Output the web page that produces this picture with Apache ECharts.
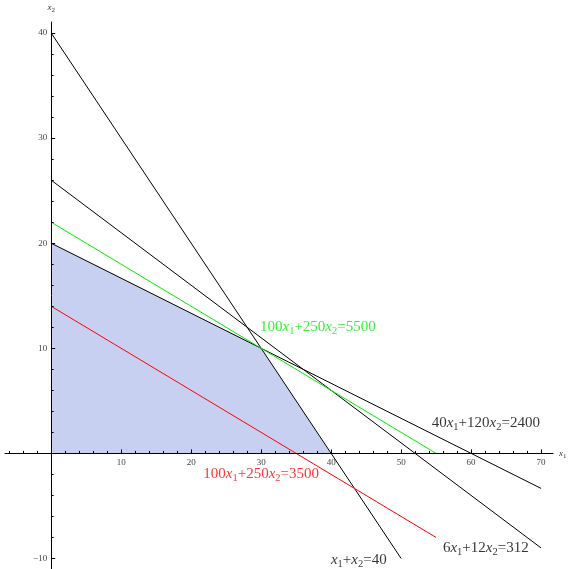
<!DOCTYPE html>
<html><head><meta charset="utf-8">
<script src="https://cdn.jsdelivr.net/npm/echarts@6/dist/echarts.min.js"></script>
<style>html,body{margin:0;padding:0;background:#fff}#c{width:568px;height:569px}</style>
</head><body><div id="c"></div>
<script>
// Axis ticks
const xMajorTicks = [10, 20, 30, 40, 50, 60, 70];
const xMinorTicks = [-6, -4, -2, 2, 4, 6, 8, 12, 14, 16, 18, 22, 24, 26, 28, 32, 34, 36, 38, 42, 44, 46, 48, 52, 54, 56, 58, 62, 64, 66, 68];
const yMajorTicks = [-10, 10, 20, 30, 40];
const yMinorTicks = [-8, -6, -4, -2, 2, 4, 6, 8, 12, 14, 16, 18, 22, 24, 26, 28, 32, 34, 36, 38];

// Constraint / objective lines (endpoints)
const lineSum = [[0, 40], [50, -10]];          // x1+x2=40
const lineB = [[0, 26], [70, -9]];             // 6x1+12x2=312
const lineC = [[0, 20], [70, -10 / 3]];        // 40x1+120x2=2400
const lineGreen = [[0, 22], [55, 0]];          // 100x1+250x2=5500
const lineRed = [[0, 14], [55, -8]];           // 100x1+250x2=3500
// Feasible region upper boundary
const feasible = [[0, 20], [30, 10], [40, 0]];

// Annotations
const labelTexts = ['x1+x2=40', '6x1+12x2=312', '40x1+120x2=2400', '100x1+250x2=5500', '100x1+250x2=3500'];
const labelAnchors = [[43.95, -10.17], [62.1, -9.03], [62.1, 2.85], [38.1, 11.98], [30.0, -2.0]];
const labelColors = ['#000', '#000', '#000', '#00ee00', '#ff0000'];

const SERIF = '"Liberation Serif","DejaVu Serif",serif';

function toRich(t) {
  return t.split(/(x[12])/).filter(s => s.length).map(s => {
    const m = s.match(/^x([12])$/);
    return m ? '{i|x}{s|' + m[1] + '}' : '{n|' + s + '}';
  }).join('');
}
function richFor(color) {
  return {
    n: { fontFamily: SERIF, fontSize: 15, color: color },
    i: { fontFamily: SERIF, fontSize: 15, fontStyle: 'italic', color: color },
    s: { fontFamily: SERIF, fontSize: 10.5, color: color, padding: [7, 0, 0, 0] }
  };
}
const axisNameRich = {
  i: { fontFamily: SERIF, fontSize: 9, fontStyle: 'italic', color: '#333' },
  s: { fontFamily: SERIF, fontSize: 7, color: '#333', padding: [5, 0, 0, 0] }
};

const W = 568, H = 569;
const G = { left: 5, right: 15, top: 22, bottom: 0 };
const X_MIN = -6.6, X_MAX = 71.7, Y_MIN = -11, Y_MAX = 41.05;
const gw = W - G.left - G.right, gh = H - G.top - G.bottom;
const y0px = G.top + (Y_MAX / (Y_MAX - Y_MIN)) * gh;        // pixel row of x2 = 0
const x0px = G.left + (-X_MIN / (X_MAX - X_MIN)) * gw;      // pixel column of x1 = 0

const tickLabelStyle = { fontFamily: SERIF, fontSize: 9, color: '#444',
  formatter: v => String(v).replace('-', '\u2212') };
const axisLineStyle = { show: true, onZero: false, lineStyle: { color: '#000', width: 1 } };

function lineSeries(data, color) {
  return { type: 'line', data: data, showSymbol: false, symbol: 'none', silent: true,
    lineStyle: { color: color, width: 1 }, z: 3, animation: false };
}
const hidden = (gi) => ({ type: 'value', gridIndex: gi, min: 0, max: 1, show: false });

const chart = echarts.init(document.getElementById('c'));
chart.setOption({
  animation: false,
  backgroundColor: '#fff',
  grid: [
    Object.assign({ containLabel: false, outerBoundsMode: 'none' }, G),
    { left: G.left, right: G.right, top: G.top, bottom: H - y0px, containLabel: false, outerBoundsMode: 'none' },
    { left: x0px, right: G.right, top: G.top, bottom: G.bottom, containLabel: false, outerBoundsMode: 'none' }
  ],
  xAxis: [
    { type: 'value', gridIndex: 0, min: X_MIN, max: X_MAX, show: false },
    { type: 'value', gridIndex: 1, min: X_MIN, max: X_MAX, position: 'bottom', z: 4,
      axisLine: axisLineStyle,
      axisTick: { show: true, inside: true, length: 4, customValues: xMajorTicks, lineStyle: { color: '#000' } },
      axisLabel: Object.assign({ customValues: xMajorTicks, margin: 5 }, tickLabelStyle),
      splitLine: { show: false },
      name: '{i|x}{s|1}', nameLocation: 'end', nameGap: 6,
      nameTextStyle: { rich: axisNameRich, verticalAlign: 'middle' } },
    { type: 'value', gridIndex: 1, min: X_MIN, max: X_MAX, position: 'bottom', z: 4,
      axisLine: { show: false },
      axisTick: { show: true, inside: true, length: 2.5, customValues: xMinorTicks, lineStyle: { color: '#000' } },
      axisLabel: { show: false }, splitLine: { show: false } },
    hidden(2)
  ],
  yAxis: [
    { type: 'value', gridIndex: 0, min: Y_MIN, max: Y_MAX, show: false },
    hidden(1),
    { type: 'value', gridIndex: 2, min: Y_MIN, max: Y_MAX, position: 'left', z: 4,
      axisLine: axisLineStyle,
      axisTick: { show: true, inside: true, length: 4, customValues: yMajorTicks, lineStyle: { color: '#000' } },
      axisLabel: Object.assign({ customValues: yMajorTicks, margin: 4 }, tickLabelStyle),
      splitLine: { show: false },
      name: '{i|x}{s|2}', nameLocation: 'end', nameGap: 8,
      nameTextStyle: { rich: axisNameRich, align: 'center' } },
    { type: 'value', gridIndex: 2, min: Y_MIN, max: Y_MAX, position: 'left', z: 4,
      axisLine: { show: false },
      axisTick: { show: true, inside: true, length: 2.5, customValues: yMinorTicks, lineStyle: { color: '#000' } },
      axisLabel: { show: false }, splitLine: { show: false } }
  ],
  series: [
    { type: 'line', xAxisIndex: 0, yAxisIndex: 0, data: feasible, showSymbol: false, symbol: 'none', silent: true,
      lineStyle: { width: 0, opacity: 0 },
      areaStyle: { color: 'rgb(200,208,242)', opacity: 1, origin: 0 }, z: 1 },
    lineSeries(lineSum, '#000'),
    lineSeries(lineB, '#000'),
    lineSeries(lineC, '#000'),
    lineSeries(lineGreen, '#00ee00'),
    lineSeries(lineRed, '#ff0000'),
    { type: 'scatter', xAxisIndex: 0, yAxisIndex: 0, symbolSize: 1, silent: true, z: 5,
      itemStyle: { color: 'rgba(0,0,0,0)' },
      data: labelTexts.map((t, k) => ({
        value: labelAnchors[k],
        label: { show: true, position: 'inside', formatter: toRich(t), rich: richFor(labelColors[k]) }
      })) }
  ]
});
</script></body></html>
